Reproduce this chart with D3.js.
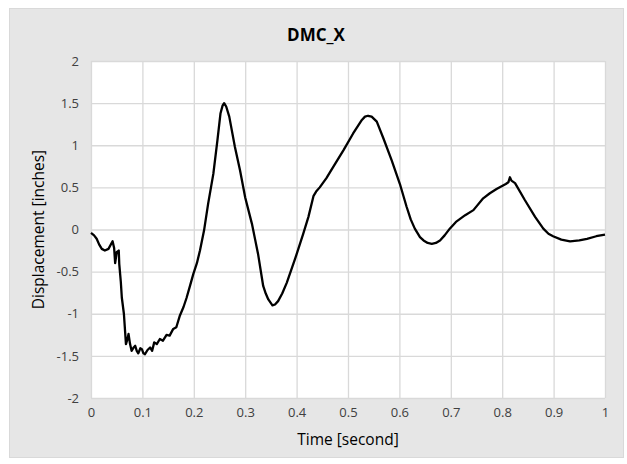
<!DOCTYPE html>
<html><head><meta charset="utf-8">
<script src="https://cdn.jsdelivr.net/npm/d3@7"></script>
<style>body{margin:0;background:#fff}text{font-family:"Open Sans",sans-serif}</style>
</head><body><svg id="c" width="627" height="464"></svg>
<script>
const timeValues = [0,0.006,0.011,0.016,0.021,0.027,0.034,0.042,0.045,0.047,0.050,0.054,0.055,0.058,0.060,0.064,0.068,0.071,0.073,0.076,0.079,0.083,0.086,0.089,0.092,0.096,0.099,0.102,0.105,0.110,0.115,0.119,0.123,0.128,0.134,0.140,0.147,0.153,0.160,0.166,0.173,0.180,0.186,0.193,0.199,0.206,0.212,0.220,0.228,0.238,0.246,0.252,0.256,0.259,0.263,0.269,0.280,0.290,0.300,0.313,0.325,0.335,0.340,0.345,0.353,0.358,0.364,0.372,0.381,0.397,0.413,0.423,0.433,0.438,0.445,0.458,0.471,0.491,0.510,0.527,0.533,0.539,0.546,0.556,0.569,0.585,0.601,0.614,0.622,0.630,0.640,0.647,0.655,0.663,0.671,0.679,0.688,0.698,0.710,0.728,0.744,0.763,0.776,0.789,0.807,0.812,0.815,0.818,0.825,0.844,0.864,0.880,0.890,0.899,0.915,0.932,0.950,0.965,0.983,1.0];
const dispValues = [-0.04,-0.07,-0.11,-0.18,-0.23,-0.25,-0.23,-0.14,-0.22,-0.40,-0.27,-0.25,-0.41,-0.62,-0.81,-1.0,-1.36,-1.30,-1.24,-1.36,-1.44,-1.40,-1.38,-1.44,-1.47,-1.41,-1.42,-1.47,-1.48,-1.43,-1.40,-1.44,-1.34,-1.36,-1.30,-1.32,-1.25,-1.26,-1.18,-1.16,-1.02,-0.92,-0.81,-0.66,-0.53,-0.40,-0.25,-0.01,0.31,0.66,1.06,1.38,1.47,1.50,1.46,1.34,0.98,0.70,0.38,0.07,-0.29,-0.67,-0.76,-0.83,-0.90,-0.89,-0.85,-0.76,-0.63,-0.35,-0.05,0.15,0.40,0.45,0.50,0.61,0.74,0.94,1.14,1.30,1.34,1.35,1.34,1.28,1.08,0.82,0.54,0.27,0.12,0.01,-0.09,-0.13,-0.16,-0.17,-0.16,-0.13,-0.07,0.01,0.09,0.17,0.23,0.37,0.43,0.48,0.54,0.56,0.62,0.58,0.55,0.35,0.15,0.01,-0.05,-0.08,-0.12,-0.14,-0.13,-0.11,-0.08,-0.06];
const xTicks = [0,0.1,0.2,0.3,0.4,0.5,0.6,0.7,0.8,0.9,1];
const yTicks = [-2,-1.5,-1,-0.5,0,0.5,1,1.5,2];
const titleText = "DMC_X", xTitle = "Time [second]", yTitle = "Displacement [inches]";

const svg = d3.select("#c");
svg.append("rect").attr("x",9.5).attr("y",8.5).attr("width",614).attr("height",449).attr("fill","#e6e6e6").attr("stroke","#d9d9d9");
const x = d3.scaleLinear().domain([0,1]).range([91,605]);
const y = d3.scaleLinear().domain([-2,2]).range([398,61]);
svg.append("rect").attr("x",x(0)).attr("y",y(2)).attr("width",x(1)-x(0)).attr("height",y(-2)-y(2)).attr("fill","#fff");
const gx = svg.append("g").attr("transform",`translate(0,${y(-2)})`)
  .call(d3.axisBottom(x).tickValues(xTicks).tickSize(-(y(-2)-y(2))).tickPadding(10).tickFormat(d=>String(d)));
const gy = svg.append("g").attr("transform",`translate(${x(0)},0)`)
  .call(d3.axisLeft(y).tickValues(yTicks).tickSize(-(x(1)-x(0))).tickPadding(12).tickFormat(d=>String(d)));
[gx,gy].forEach(g=>{g.select(".domain").remove();
  g.selectAll(".tick line").attr("stroke","#d9d9d9").attr("stroke-width",1.3);
  g.selectAll(".tick text").attr("fill","#404040").attr("font-size",13).attr("font-family","'Open Sans',sans-serif");});
svg.append("path").datum(timeValues.map((t,i)=>[t,dispValues[i]]))
  .attr("d",d3.line().x(d=>x(d[0])).y(d=>y(d[1])))
  .attr("fill","none").attr("stroke","#000").attr("stroke-width",2.3).attr("stroke-linejoin","round");
svg.append("text").attr("x",316).attr("y",41).attr("text-anchor","middle").attr("font-size",17).attr("font-weight","bold").attr("fill","#000").text(titleText);
svg.append("text").attr("x",x(0.5)).attr("y",445).attr("text-anchor","middle").attr("font-size",15.5).attr("fill","#000").text(xTitle);
svg.append("text").attr("transform",`translate(44,${y(0)}) rotate(-90)`).attr("text-anchor","middle").attr("font-size",15.5).attr("fill","#000").text(yTitle);
</script></body></html>
